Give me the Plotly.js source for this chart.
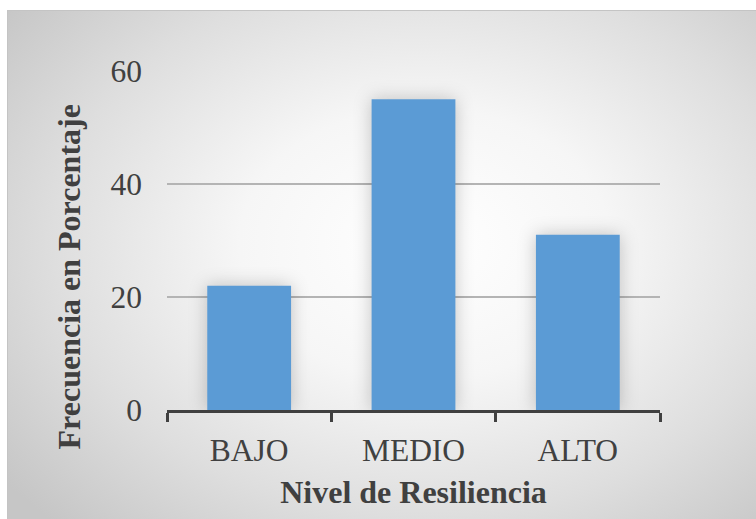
<!DOCTYPE html>
<html>
<head>
<meta charset="utf-8">
<script src="https://cdn.plot.ly/plotly-3.0.1.min.js"></script>
<style>
  html, body { margin: 0; padding: 0; background: #ffffff; }
  #wrap { position: relative; width: 756px; height: 519px; overflow: hidden; background: #ffffff; }
  #bg { position: absolute; left: 7px; top: 10px; width: 760px; height: 520px;
        border: 1px solid #c4c4c4; box-sizing: border-box;
        background: radial-gradient(ellipse 70% 75% at 55% 45%, #ffffff 0%, #f6f6f6 35%, #dedede 70%, #c6c6c6 100%); }
  #chart { position: absolute; left: 0; top: 0; width: 756px; height: 519px; }
  #chart .bars path { filter: drop-shadow(0px 0px 9px rgba(0,0,0,0.22)); }
</style>
</head>
<body>
<div id="wrap">
  <div id="bg"></div>
  <div id="chart"></div>
</div>
<script>
const categories = ["BAJO", "MEDIO", "ALTO"];
const values = [22, 55, 31];
const yTicks = [0, 20, 40];
const yTopTick = [60];
const xTitle = "Nivel de Resiliencia";
const yTitle = "Frecuencia en Porcentaje";

const trace = {
  type: "bar",
  x: categories,
  y: values,
  marker: { color: "#5B9BD5" },
  hoverinfo: "x+y"
};
const ghost = {
  type: "scatter", mode: "markers",
  x: categories, y: values, yaxis: "y2",
  marker: { opacity: 0 }, showlegend: false, hoverinfo: "skip"
};

const layout = {
  width: 756, height: 519,
  margin: { l: 167, r: 96, t: 71, b: 109 },
  paper_bgcolor: "rgba(0,0,0,0)",
  plot_bgcolor: "rgba(0,0,0,0)",
  showlegend: false,
  bargap: 0.49,
  font: { family: "Liberation Serif, Times New Roman, serif", color: "#404040" },
  xaxis: {
    type: "category",
    showline: true, linecolor: "#404040", linewidth: 3,
    ticks: "outside", tickson: "boundaries", ticklen: 9, tickwidth: 3, tickcolor: "#404040",
    tickfont: { size: 31.5, color: "#404040" },
    ticklabelstandoff: 10,
    showgrid: false, zeroline: false,
    title: { text: xTitle, font: { size: 32, color: "#404040", weight: "bold" }, standoff: 14 }
  },
  yaxis: {
    range: [0, 60],
    tickvals: yTicks,
    tickfont: { size: 31.5, color: "#404040" },
    ticklabelstandoff: 24,
    showgrid: true, gridcolor: "#b4b4b4", gridwidth: 1.5,
    zeroline: false, showline: false, ticks: ""
  },
  yaxis2: {
    overlaying: "y", range: [0, 60],
    tickvals: yTopTick,
    side: "left",
    tickfont: { size: 31.5, color: "#404040" },
    ticklabelstandoff: 24,
    showgrid: true, gridcolor: "#dedede", gridwidth: 1.5,
    zeroline: false, showline: false, ticks: ""
  },
  annotations: [{
    text: "<b>" + yTitle + "</b>",
    xref: "paper", yref: "paper",
    x: -0.1988, y: 0.394,
    xanchor: "center", yanchor: "middle",
    textangle: -90, showarrow: false,
    font: { size: 32, color: "#404040", family: "Liberation Serif, Times New Roman, serif" }
  }]
};

Plotly.newPlot("chart", [trace, ghost], layout, { displayModeBar: false, staticPlot: true });
</script>
</body>
</html>
